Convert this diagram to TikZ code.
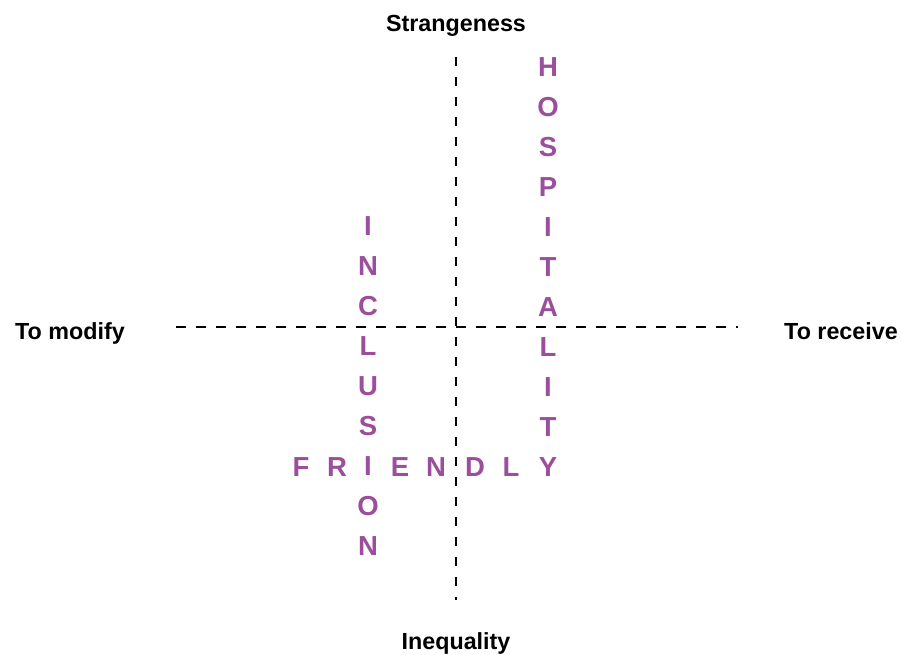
\documentclass[tikz,border=0pt]{standalone}
\usepackage{fontspec}
\setmainfont{Liberation Sans}
\usepackage{tikz}
\usetikzlibrary{positioning}
\definecolor{wordpurple}{RGB}{155,78,156}
\tikzset{axislabel/.style={font=\fontsize{23.3}{24}\selectfont\bfseries,anchor=base,inner sep=0pt},
  letter/.style={font=\fontsize{27.5}{28}\selectfont\bfseries,text=wordpurple,anchor=base,inner sep=0pt},
  axisline/.style={line width=2.4pt,dash pattern=on 9.5pt off 10.5pt}}

\begin{document}
\begin{tikzpicture}[x=1pt,y=1pt]
\useasboundingbox (0,0) rectangle (902,655);
% --- axes
\coordinate (north) at (456,598);
\coordinate (south) at (456,55);
\coordinate (west) at (176,328);
\coordinate (east) at (738,328);
\draw[axisline] (north) -- (south);
\draw[axisline] (west) -- (east);
\node[axislabel] (strange) at (456,623.5) {Strangeness};
\node[axislabel] (inequal) at (456,5) {Inequality};
\node[axislabel] (modify) at (70,315) {To modify};
\node[axislabel] (receive) at (841,315) {To receive};
% --- hospitality, vertical
\foreach \ch [count=\i] in {H,O,S,P,I,T,A,L,I,T,Y}
  \node[letter] (hosp\i) at (548,{578-40*(\i-1)}) {\ch};
% --- inclusion, vertical
\foreach \ch [count=\i] in {I,N,C,L,U,S,I,O,N}
  \node[letter] (incl\i) at (368,{419.5-40*(\i-1)}) {\ch};
% --- friendly, across (I and Y are shared)
\foreach \ch/\x [count=\i] in {F/301,R/337,E/400,N/436,D/475,L/511}
  \node[letter] (frnd\i) at (\x,178) {\ch};
\end{tikzpicture}
\end{document}
